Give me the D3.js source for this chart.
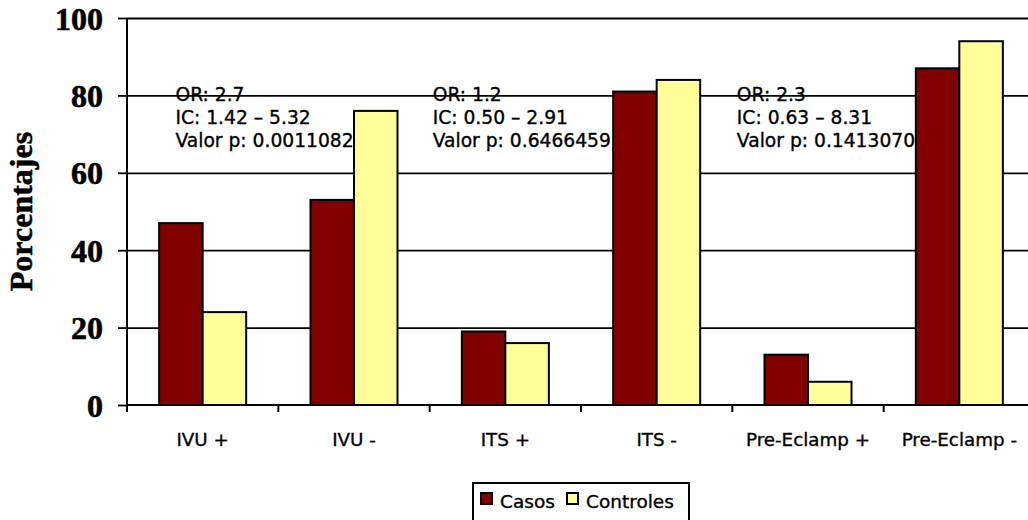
<!DOCTYPE html>
<html>
<head>
<meta charset="utf-8">
<script src="https://cdn.jsdelivr.net/npm/d3@7"></script>
<style>
  html, body { margin: 0; padding: 0; background: #fff; }
  svg { display: block; }
</style>
</head>
<body>
<svg id="chart" width="1028" height="520"></svg>
<script>
// Categories and series
const categories = ["IVU +", "IVU -", "ITS +", "ITS -", "Pre-Eclamp +", "Pre-Eclamp -"];
const seriesNames = ["Casos", "Controles"];
const casos = [47, 53, 19, 81, 13, 87];
const controles = [24, 76, 16, 84, 6, 94];
const yTicks = [0, 20, 40, 60, 80, 100];

// Odds-ratio notes, anchored at a category index
const noteAt = [0.32, 2.02, 4.03];
const noteLines = [
  ["OR: 2.7", "IC: 1.42 \u2013 5.32", "Valor p: 0.0011082"],
  ["OR: 1.2", "IC: 0.50 \u2013 2.91", "Valor p: 0.6466459"],
  ["OR: 2.3", "IC: 0.63 \u2013 8.31", "Valor p: 0.1413070"]
];

const colors = { "Casos": "#800000", "Controles": "#FFFF99" };
const sans = "'DejaVu Sans', Verdana, sans-serif";
const serif = "'Liberation Serif', 'Times New Roman', serif";

const svg = d3.select("#chart");
const plotLeft = 127, plotRight = 1035, plotTop = 18, plotBottom = 405;

const x = d3.scaleBand().domain(categories).range([plotLeft, plotRight]).paddingInner(0).paddingOuter(0);
const xs = d3.scaleBand().domain(seriesNames).range([0, x.bandwidth()]).paddingInner(0).paddingOuter(0.739);
const xi = d3.scaleLinear().domain([0, categories.length]).range([plotLeft, plotRight]);
const y = d3.scaleLinear().domain([0, 100]).range([plotBottom, plotTop]);

const rows = categories.map((c, i) => ({ cat: c, values: [
  { key: "Casos", v: casos[i] },
  { key: "Controles", v: controles[i] }
]}));

// Slightly heavier sans text
function heavy(sel, w) {
  return sel.attr("stroke", "#000").attr("stroke-width", w).attr("paint-order", "stroke");
}

// Notes sit underneath the grid and bars
const notes = svg.append("g");
noteLines.forEach((lines, k) => {
  const t = notes.append("text")
    .attr("x", xi(noteAt[k]))
    .attr("y", y(78.6))
    .attr("font-family", sans)
    .attr("font-size", "18.7px")
    .attr("fill", "#000");
  heavy(t, 0.35);
  lines.forEach((s, j) => {
    t.append("tspan").attr("x", xi(noteAt[k])).attr("dy", j === 0 ? 0 : 23).text(s);
  });
});

// Horizontal grid lines with left tick marks and labels
const yAxis = d3.axisLeft(y).tickValues(yTicks).tickSize(9).tickPadding(14).tickFormat(d3.format("d"));
const gy = svg.append("g").attr("transform", `translate(${plotLeft},0)`).call(yAxis);
gy.select(".domain").remove();
gy.selectAll(".tick line").attr("stroke", "#000").attr("stroke-width", 1.8);
gy.selectAll(".tick").filter(d => d > 0).append("line")
  .attr("x1", 0).attr("x2", plotRight - plotLeft)
  .attr("stroke", "#000").attr("stroke-width", 1.8);
heavy(gy.selectAll(".tick text")
  .attr("font-family", serif).attr("font-weight", "bold").attr("font-size", "32px")
  .attr("fill", "#000").attr("dy", "11").attr("x", -24), 0.6);

// Bars
const groups = svg.append("g").selectAll("g").data(rows).join("g")
  .attr("transform", d => `translate(${x(d.cat)},0)`);
groups.selectAll("rect").data(d => d.values).join("rect")
  .attr("x", d => xs(d.key))
  .attr("y", d => y(d.v))
  .attr("width", xs.bandwidth())
  .attr("height", d => y(0) - y(d.v))
  .attr("fill", d => colors[d.key])
  .attr("stroke", "#000")
  .attr("stroke-width", 2);

// Vertical axis line
svg.append("line")
  .attr("x1", plotLeft).attr("x2", plotLeft).attr("y1", y(100)).attr("y2", plotBottom + 7)
  .attr("stroke", "#000").attr("stroke-width", 2);

// Category axis
const boundaries = d3.range(categories.length + 1).map(i => xi(i));
svg.append("line")
  .attr("x1", plotLeft).attr("x2", plotRight).attr("y1", plotBottom).attr("y2", plotBottom)
  .attr("stroke", "#000").attr("stroke-width", 2);
svg.append("g").selectAll("line").data(boundaries).join("line")
  .attr("x1", d => d).attr("x2", d => d)
  .attr("y1", plotBottom).attr("y2", plotBottom + 7)
  .attr("stroke", "#000").attr("stroke-width", 2);
heavy(svg.append("g").selectAll("text").data(categories).join("text")
  .attr("x", d => x(d) + x.bandwidth() / 2)
  .attr("y", 446)
  .attr("text-anchor", "middle")
  .attr("font-family", sans)
  .attr("font-size", "18.3px")
  .attr("fill", "#000")
  .text(d => d), 0.35);

// Axis title
heavy(svg.append("text")
  .attr("transform", `translate(32, ${(plotTop + plotBottom) / 2}) rotate(-90)`)
  .attr("text-anchor", "middle")
  .attr("font-family", serif)
  .attr("font-weight", "bold")
  .attr("font-size", "32px")
  .attr("fill", "#000")
  .text("Porcentajes"), 0.5);

// Legend
const legend = svg.append("g");
legend.append("rect")
  .attr("x", 473).attr("y", 483).attr("width", 216).attr("height", 50)
  .attr("fill", "#fff").attr("stroke", "#000").attr("stroke-width", 2);
const legendX = [481, 567];
seriesNames.forEach((s, i) => {
  legend.append("rect")
    .attr("x", legendX[i]).attr("y", 493).attr("width", 11).attr("height", 11)
    .attr("fill", colors[s]).attr("stroke", "#000").attr("stroke-width", 2);
  heavy(legend.append("text")
    .attr("x", legendX[i] + 19).attr("y", 508)
    .attr("font-family", sans).attr("font-size", "18.5px").attr("fill", "#000")
    .text(s), 0.35);
});
</script>
</body>
</html>
